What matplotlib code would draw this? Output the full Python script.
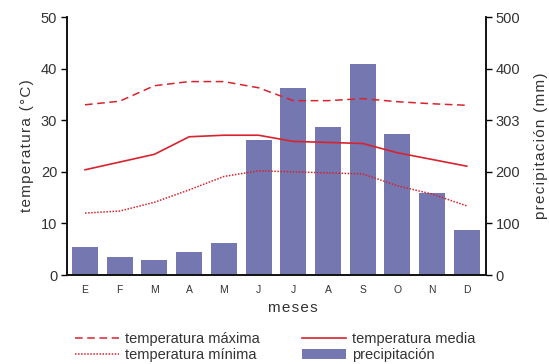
import numpy as np
import matplotlib.pyplot as plt

plt.rcParams['font.family'] = ['Liberation Sans', 'DejaVu Sans']

meses = ['E', 'F', 'M', 'A', 'M', 'J', 'J', 'A', 'S', 'O', 'N', 'D']
temp_max = [33.0, 33.7, 36.7, 37.5, 37.5, 36.3, 33.8, 33.8, 34.2, 33.6, 33.2, 32.9]
temp_media = [20.4, 21.9, 23.4, 26.8, 27.1, 27.1, 25.9, 25.7, 25.5, 23.7, 22.4, 21.1]
temp_min = [12.0, 12.4, 14.1, 16.5, 19.1, 20.2, 20.0, 19.8, 19.6, 17.3, 15.7, 13.4]
precip = [54, 35, 29, 44, 62, 261, 362, 286, 410, 273, 159, 87]

precip_ticks = [0, 100, 200, 300, 400, 500]
precip_labels = ['0', '100', '200', '303', '400', '500']

texto = '#333333'
rojo = '#d8232f'
azul = '#7477b0'


def espaciado(s):
    # letras algo separadas, como en el original
    return '\u200a'.join(s)


fig = plt.figure(figsize=(5.49, 3.64), dpi=100)
ax = fig.add_axes([0.122, 0.2445, 0.763, 0.7085])
ax2 = ax.twinx()

x = np.arange(len(meses))
barras = ax2.bar(x, precip, width=0.75, color=azul, label='precipitación')
ax2.set_ylim(0, 500)
ax2.set_yticks(precip_ticks)
ax2.set_yticklabels(precip_labels)

l_max, = ax.plot(x, temp_max, color=rojo, lw=1.1, ls=(0, (5, 3)), label='temperatura máxima')
l_min, = ax.plot(x, temp_min, color=rojo, lw=1.1, ls=(0, (1, 1)), label='temperatura mínima')
l_med, = ax.plot(x, temp_media, color=rojo, lw=1.2, label='temperatura media')
ax.set_zorder(ax2.get_zorder() + 1)
ax.patch.set_visible(False)

ax.set_ylim(0, 50)
ax.set_xlim(-0.52, 11.55)
ax.set_yticks([0, 10, 20, 30, 40, 50])
ax.set_xticks(x)
ax.set_xticklabels(meses, fontsize=7.5, color=texto)

for a in (ax, ax2):
    a.spines['top'].set_visible(False)
    for s in a.spines.values():
        s.set_linewidth(1.2)
        s.set_color('#111111')
    a.tick_params(axis='y', length=4, width=1, labelsize=10.5, labelcolor=texto, pad=3)
ax.tick_params(axis='x', length=0, pad=7)

ax.set_ylabel(espaciado('temperatura (°C)'), fontsize=11, color=texto, labelpad=5)
ax2.set_ylabel(espaciado('precipitación (mm)'), fontsize=11, color=texto, labelpad=10)
fig.text(0.534, 0.153, espaciado('meses'), fontsize=11, color=texto, ha='center', va='center')

handles = [l_max, l_min, l_med, barras]
etiquetas = ['temperatura máxima', 'temperatura mínima', 'temperatura media', 'precipitación']
fig.legend(handles, etiquetas, ncol=2, loc='upper left',
           bbox_to_anchor=(0.124, 0.108), frameon=False, fontsize=10.5,
           handlelength=3.0, handletextpad=0.4, columnspacing=2.9,
           labelspacing=0.15, borderpad=0, labelcolor=texto)

fig.savefig('out.png', dpi=100)
